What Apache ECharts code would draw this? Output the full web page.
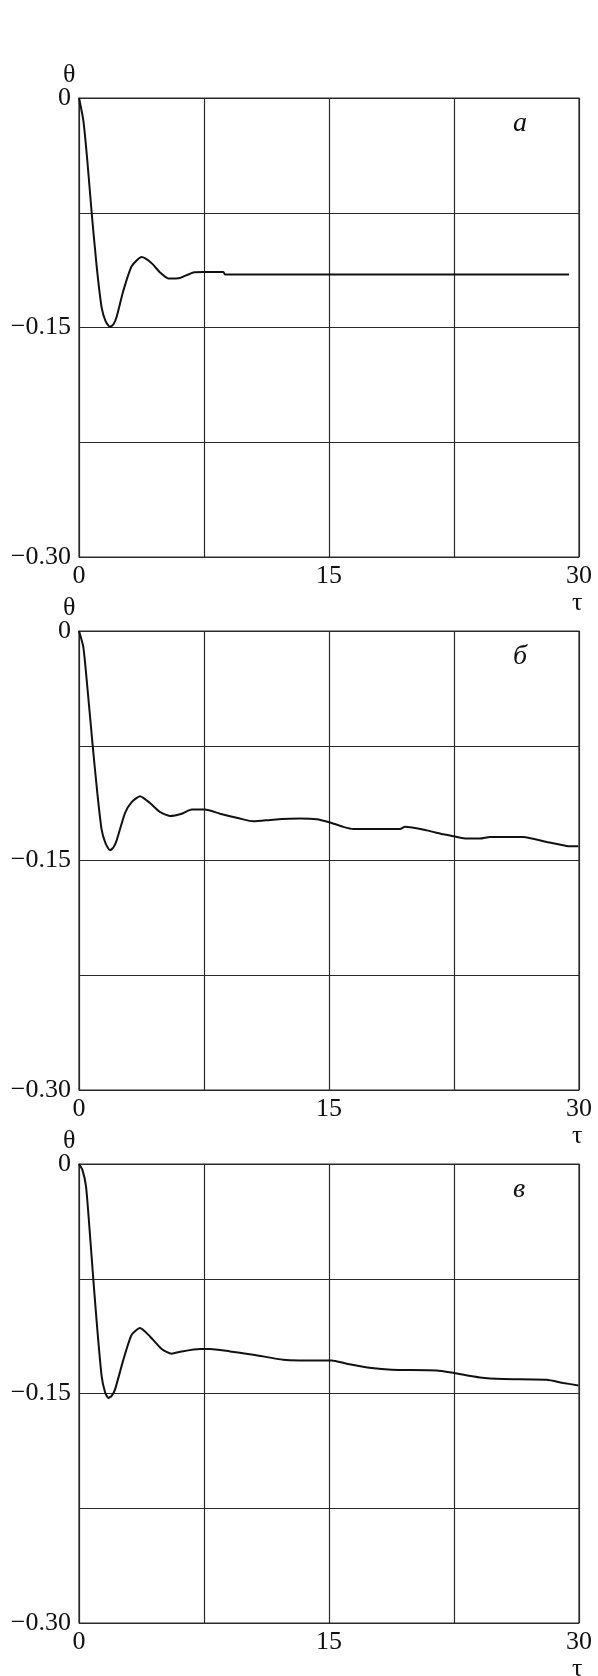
<!DOCTYPE html>
<html>
<head>
<meta charset="utf-8">
<script src="https://cdn.jsdelivr.net/npm/echarts@6/dist/echarts.min.js"></script>
<style>
html,body{margin:0;padding:0;background:#fff;}
#c{width:598px;height:1676px;}
</style>
</head>
<body>
<div id="c"></div>
<script>
// ---- data ----
const tauA   = [0, 0.26, 0.5, 0.76, 1.06, 1.36, 1.6, 1.86, 2.06, 2.26, 2.66, 3.16, 3.76, 4.36, 4.86, 5.36, 6.06, 6.86, 7.46, 8.66, 8.76, 29.4];
const thetaA = [0, -0.0146, -0.041, -0.075, -0.11, -0.137, -0.146, -0.1496, -0.148, -0.143, -0.126, -0.110, -0.104, -0.108, -0.114, -0.118, -0.1176, -0.114, -0.1137, -0.1137, -0.1154, -0.1154];

const tauB   = [0, 0.26, 0.5, 0.82, 1.1, 1.36, 1.6, 1.86, 2.06, 2.26, 2.76, 3.16, 3.66, 4.26, 4.86, 5.46, 6.16, 6.76, 7.56, 8.46, 9.66, 10.46, 11.66, 13.26, 14.26, 14.96, 15.86, 16.46, 19.26, 19.56, 20.86, 21.86, 22.5, 23.26, 24.06, 24.66, 26.66, 28.06, 29.26, 29.96];
const thetaB = [0, -0.0105, -0.0366, -0.0747, -0.106, -0.130, -0.139, -0.1433, -0.1415, -0.1368, -0.119, -0.1118, -0.108, -0.1124, -0.1183, -0.1209, -0.1194, -0.1167, -0.1167, -0.1194, -0.1226, -0.1244, -0.1233, -0.1226, -0.123, -0.1248, -0.128, -0.1294, -0.1294, -0.128, -0.1303, -0.1329, -0.1342, -0.1357, -0.1357, -0.1346, -0.1346, -0.1379, -0.1405, -0.1407];

const tauC   = [0, 0.2, 0.42, 0.62, 0.86, 1.1, 1.36, 1.56, 1.76, 1.96, 2.16, 2.66, 3.16, 3.66, 4.26, 4.96, 5.56, 6.16, 7.26, 7.86, 9.06, 10.46, 12.26, 13.26, 15.16, 16.06, 17.56, 18.76, 21.46, 22.5, 24.06, 25.46, 28.06, 29.06, 29.96];
const thetaC = [0, -0.0037, -0.0146, -0.0408, -0.0756, -0.1083, -0.1388, -0.149, -0.153, -0.1515, -0.1475, -0.128, -0.1116, -0.1072, -0.1127, -0.1209, -0.124, -0.1225, -0.1209, -0.1209, -0.1225, -0.1246, -0.128, -0.1284, -0.1284, -0.1305, -0.1333, -0.1344, -0.1349, -0.1366, -0.1395, -0.1405, -0.141, -0.1431, -0.1447];

const xTickValues = [0, 15, 30];
const xTickLabels = ['0', '15', '30'];
const yTickValues = [0, -0.15, -0.30];
const yTickLabels = ['0', '\u22120.15', '\u22120.30'];
const panelLetters = ['\u0430', '\u0431', '\u0432'];
const yName = '\u03b8';
const xName = '\u03c4';

// ---- layout ----
const FONT = 'Liberation Serif';
const gridLeft = 79, gridWidth = 500, gridHeight = 459;
const gridTops = [98, 631, 1164];
const series = [[tauA, thetaA], [tauB, thetaB], [tauC, thetaC]];

function lookup(v, vals, labels) {
  for (let i = 0; i < vals.length; i++) if (Math.abs(v - vals[i]) < 1e-6) return labels[i];
  return '';
}

const grids = [], xAxes = [], yAxes = [], ser = [], graphics = [];
gridTops.forEach((top, i) => {
  grids.push({left: gridLeft, top: top, width: gridWidth, height: gridHeight,
    show: true, borderColor: '#2a2a2a', borderWidth: 1.2, backgroundColor: 'transparent'});
  xAxes.push({type: 'value', gridIndex: i, min: 0, max: 30, interval: 7.5,
    axisLine: {show: false}, axisTick: {show: false},
    splitLine: {show: true, lineStyle: {color: '#2a2a2a', width: 1.2}},
    axisLabel: {margin: 6, fontFamily: FONT, fontSize: 26, color: '#111',
      formatter: v => lookup(v, xTickValues, xTickLabels)}});
  yAxes.push({type: 'value', gridIndex: i, min: -0.3, max: 0, interval: 0.075,
    axisLine: {show: false}, axisTick: {show: false},
    splitLine: {show: true, lineStyle: {color: '#2a2a2a', width: 1.2}},
    axisLabel: {margin: 8, fontFamily: FONT, fontSize: 26, color: '#111',
      formatter: v => lookup(v, yTickValues, yTickLabels)}});
  const [t, th] = series[i];
  ser.push({type: 'line', xAxisIndex: i, yAxisIndex: i, showSymbol: false, smooth: 0.2,
    lineStyle: {color: '#111', width: 2}, data: t.map((x, k) => [x, th[k]]), animation: false});
  graphics.push({type: 'text', left: 71 - 8, top: top - 36,
    style: {text: yName, font: '26px "' + FONT + '"', fill: '#111'}});
  graphics.push({type: 'text', left: 578 - 6, top: top + gridHeight + 33,
    style: {text: xName, font: '26px "' + FONT + '"', fill: '#111'}});
  graphics.push({type: 'text', left: 513, top: top + 12,
    style: {text: panelLetters[i], font: 'italic 28px "' + FONT + '"', fill: '#111'}});
});

const chart = echarts.init(document.getElementById('c'), null, {renderer: 'canvas'});
chart.setOption({
  animation: false,
  backgroundColor: '#fff',
  grid: grids, xAxis: xAxes, yAxis: yAxes, series: ser, graphic: graphics
});
</script>
</body>
</html>
